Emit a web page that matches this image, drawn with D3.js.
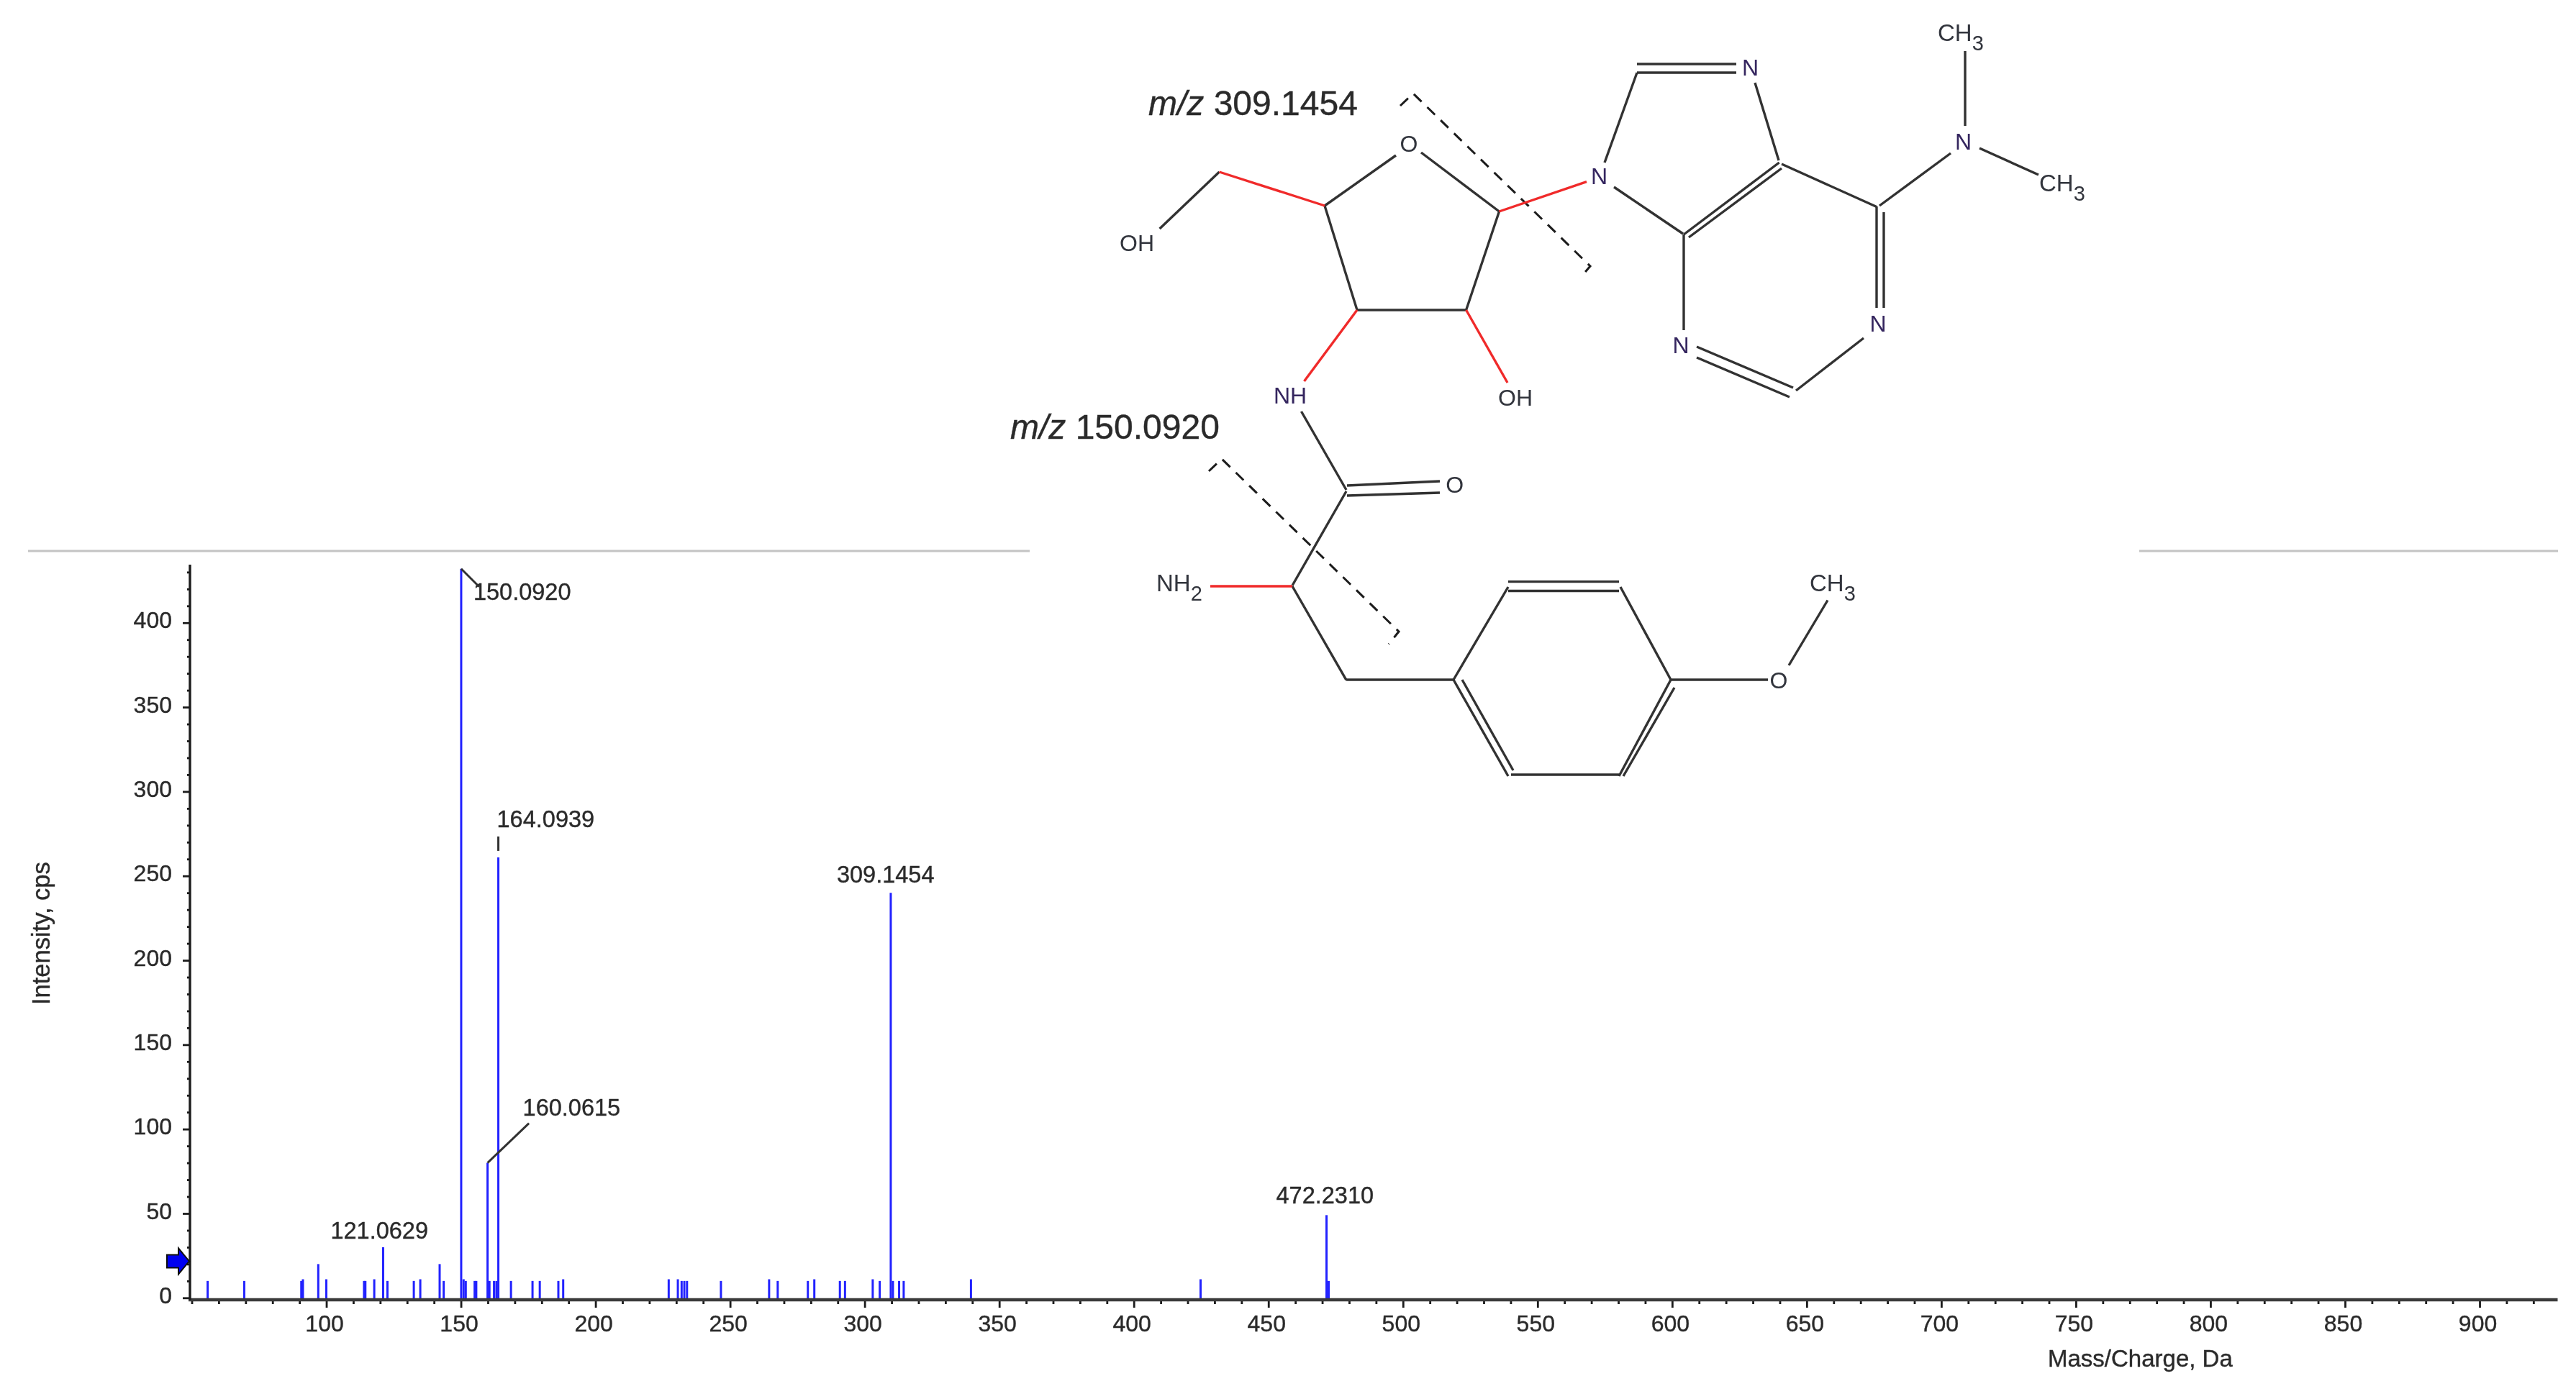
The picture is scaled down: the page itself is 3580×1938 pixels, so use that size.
<!DOCTYPE html>
<html>
<head>
<meta charset="utf-8">
<script src="https://cdn.jsdelivr.net/npm/d3@7"></script>
<style>
  html, body { margin: 0; padding: 0; background: #fff; }
  svg { display: block; }
  text { font-family: "Liberation Sans", Arial, sans-serif; fill: #2b2b2b; stroke: #2b2b2b; stroke-width: 0.4; }
</style>
</head>
<body>
<script>
// spectrum
const peakMz = [55.9, 69.5, 90.7, 91.3, 97, 100, 114, 114.5, 117.8, 121.1, 122.7, 132.5, 134.9, 142.1, 143.6,
  150.1, 151, 151.8, 155.1, 155.7, 159.9, 160.6, 162.3, 163.2, 163.9, 168.6, 176.6, 179.3, 186.2, 188,
  227.2, 230.6, 232, 233, 234, 246.6, 264.5, 267.7, 278.9, 281.3, 290.8, 292.7, 303, 305.6,
  309.7, 310.5, 312.8, 314.5, 339.5, 424.8, 471.6, 472.4]
const peakIntensity = [10, 10, 10, 11, 20, 11, 10, 10, 11, 30, 10, 10, 11, 20, 10,
  432, 11, 10, 10, 10, 80, 10, 10, 10, 261, 10, 10, 10, 10, 11,
  11, 11, 10, 10, 10, 10, 11, 10, 10, 11, 10, 10, 11, 10,
  240, 10, 10, 10, 11, 11, 49, 10]

const labelMz = [150.1, 163.9, 159.9, 121.1, 309.7, 471.6]
const labelIntensity = [432, 261, 80, 30, 240, 49]
const labelText = ['150.0920', '164.0939', '160.0615', '121.0629', '309.1454', '472.2310']

const xMajor = [100, 150, 200, 250, 300, 350, 400, 450, 500, 550, 600, 650, 700, 750, 800, 850, 900]
const yMajor = [0, 50, 100, 150, 200, 250, 300, 350, 400]
const xMinor = d3.range(50, 921, 10).filter(d => d % 50 !== 0 || d === 50)
const yMinor = d3.range(10, 431, 10).filter(d => d % 50 !== 0)
const thresholdValue = 21.7

// structure drawing, in picture pixels
const blackBonds = [
  [1975,212,2083.5,294], [1940,216,1841,286], [1841,286,1886,431], [1886,431,2037.6,431], [2037.6,431,2083.5,294],
  [1694.5,239,1611.6,318], [2439,115,2472,223], [2472.6,226,2340,326], [2476,234,2347,330], [2476,228,2608,287.5],
  [2608,287,2608,428], [2618,295,2618,428], [2612,286,2711,213], [2731,71,2731,175], [2751,206,2833,243],
  [2590,470,2496,543], [2358,482,2492,539], [2358,497,2487,552], [2340,326,2340,459], [2243,260,2339,325],
  [2230,226,2275,101], [2275,89,2413,89], [2275,101,2413,101],
  [1808.5,572,1871,681], [1872,675,2001,669], [1872,689,2001,685], [1871,683,1796,814], [1796,815,1871,945.4],
  [1871,945,2020,945], [2020,945,2096,1079], [2032,945,2103,1071], [2020,945,2096,816], [2096,808.6,2250,808.6],
  [2096,821.5,2250,821.5], [2252,816,2322,945], [2322,945,2250,1079], [2327,956,2256,1079], [2100,1077,2250,1077],
  [2322,945,2457,945], [2486,925,2540,834.5]
]
const redBonds = [
  [2083.5,294,2205,252.6], [1841,286,1694.5,239], [1886,431,1812.5,530], [2037.6,431,2095,532], [1682,815,1796,815]
]
const cutLines = [
  [[1946,147],[1964,130],[2210,370],[2196,386.5]],
  [[1680,655],[1698,638],[1944,878],[1930,895.5]]
]
const atomText = ['O', 'OH', 'OH', 'NH', 'N', 'N', 'N', 'N', 'N', 'O', 'O']
const atomX = [1958, 1580, 2106, 1793, 2222.6, 2432.6, 2336, 2610, 2728.6, 2021.6, 2472]
const atomY = [199, 337, 552, 549, 244, 93.6, 479, 449, 196, 673.5, 945.5]
const groupMain = ['CH', 'CH', 'CH', 'NH']
const groupSub = ['3', '3', '3', '2']
const groupX = [2693, 2834, 2515, 1607]
const groupY = [57, 266, 821.5, 821.5]

const width = 3580
const height = 1938
const svg = d3.select('body').append('svg')
    .attr('width', width)
    .attr('height', height)
    .attr('viewBox', [0, 0, width, height])

const defs = svg.append('defs')
defs.append('filter').attr('id', 'soft')
    .attr('filterUnits', 'userSpaceOnUse')
    .attr('x', 0).attr('y', 0).attr('width', width).attr('height', height)
  .append('feGaussianBlur').attr('stdDeviation', 0.7)

const root = svg.append('g').attr('filter', 'url(#soft)')
root.append('rect').attr('width', width).attr('height', height).attr('fill', '#fff')

const baseY = 1807
const x = d3.scaleLinear().domain([50, 929]).range([266.5, 3554.5])
const y = d3.scaleLinear().domain([0, 434]).range([1804.3, 786])

// grey rule behind the structure
root.selectAll('.rule')
  .data([[39, 1431], [2973, 3555]])
  .enter().append('line')
    .attr('class', 'rule')
    .attr('x1', d => d[0]).attr('x2', d => d[1])
    .attr('y1', 766).attr('y2', 766)
    .attr('stroke', '#c4c4c4').attr('stroke-width', 3)

// peaks
root.selectAll('.peak')
  .data(peakMz)
  .enter().append('line')
    .attr('class', 'peak')
    .attr('x1', d => x(d)).attr('x2', d => x(d))
    .attr('y1', baseY)
    .attr('y2', (d, i) => y(peakIntensity[i]))
    .attr('stroke', '#2222ff').attr('stroke-width', 3)

// axes
const xAxisMinor = d3.axisBottom(x).tickValues(xMinor).tickSize(6).tickFormat('')
const xAxisMajor = d3.axisBottom(x).tickValues(xMajor).tickSize(11).tickPadding(10)
const yAxisMinor = d3.axisLeft(y).tickValues(yMinor).tickSize(4).tickFormat('')
const yAxisMajor = d3.axisLeft(y).tickValues(yMajor).tickSize(10).tickPadding(15)

function styleAxis(g) {
  g.selectAll('.domain').remove()
  g.selectAll('line').attr('stroke', '#1a1a1a').attr('stroke-width', 2.8)
  g.selectAll('text').attr('font-size', 32)
    .attr('font-family', '"Liberation Sans", Arial, sans-serif')
}

root.append('g')
    .attr('transform', 'translate(0,' + baseY + ')').call(xAxisMinor).call(styleAxis)
root.append('g')
    .attr('transform', 'translate(0,' + baseY + ')').call(xAxisMajor).call(styleAxis)
    .selectAll('text').attr('dx', -3)
root.append('g')
    .attr('transform', 'translate(264,0)').call(yAxisMinor).call(styleAxis)
root.append('g')
    .attr('transform', 'translate(264,0)').call(yAxisMajor).call(styleAxis)
    .selectAll('text').attr('dy', '0.22em')

root.append('line')
    .attr('x1', 262).attr('x2', 3554.5).attr('y1', baseY).attr('y2', baseY)
    .attr('stroke', '#3a3a3a').attr('stroke-width', 4.5)
root.append('line')
    .attr('x1', 264).attr('x2', 264).attr('y1', 785).attr('y2', baseY)
    .attr('stroke', '#1a1a1a').attr('stroke-width', 3.4)

root.append('text')
    .attr('x', 2846).attr('y', 1900)
    .attr('font-size', 33)
    .text('Mass/Charge, Da')
root.append('text')
    .attr('transform', 'translate(69,1397) rotate(-90)')
    .attr('font-size', 34.5)
    .text('Intensity, cps')

// threshold arrow
const ay = y(thresholdValue)
root.append('path')
    .attr('d', d3.line()([[232, ay - 9], [248, ay - 9], [248, ay - 18], [263, ay], [248, ay + 18], [248, ay + 9], [232, ay + 9]]) + 'Z')
    .attr('fill', '#0000f0').attr('stroke', '#111').attr('stroke-width', 2)

// peak labels, offsets from the top of each peak
const labelDx = [17, -2, 49, -73, -75, -70]
const labelDy = [43, -42, -66, -12, -14, -16]
root.selectAll('.peak-label')
  .data(labelText)
  .enter().append('text')
    .attr('class', 'peak-label')
    .attr('x', (d, i) => x(labelMz[i]) + labelDx[i])
    .attr('y', (d, i) => y(labelIntensity[i]) + labelDy[i])
    .attr('font-size', 32.5)
    .text(d => d)

// leader lines from peak top to label
const leaderEnd = [[25, 25], [0, -29, 0, -9], [57.5, -55], null, null, null]
leaderEnd.forEach(function(e, i) {
  if (!e) return
  const px = x(labelMz[i])
  const py = y(labelIntensity[i])
  root.append('line')
      .attr('x1', px + e[0]).attr('y1', py + e[1])
      .attr('x2', px + (e.length > 2 ? e[2] : 0)).attr('y2', py + (e.length > 2 ? e[3] : 0))
      .attr('stroke', '#333').attr('stroke-width', 3)
})

// structure
const mol = root.append('g')
mol.selectAll('.bond')
  .data(blackBonds)
  .enter().append('line')
    .attr('class', 'bond')
    .attr('x1', d => d[0]).attr('y1', d => d[1])
    .attr('x2', d => d[2]).attr('y2', d => d[3])
    .attr('stroke', '#333').attr('stroke-width', 3.4)
mol.selectAll('.cut')
  .data(cutLines)
  .enter().append('path')
    .attr('class', 'cut')
    .attr('d', d3.line())
    .attr('fill', 'none')
    .attr('stroke', '#1c1c1c').attr('stroke-width', 3)
    .attr('stroke-dasharray', '15 11')
mol.selectAll('.red-bond')
  .data(redBonds)
  .enter().append('line')
    .attr('class', 'red-bond')
    .attr('x1', d => d[0]).attr('y1', d => d[1])
    .attr('x2', d => d[2]).attr('y2', d => d[3])
    .attr('stroke', '#f02c2c').attr('stroke-width', 3.4)

mol.selectAll('.atom')
  .data(atomText)
  .enter().append('text')
    .attr('class', 'atom')
    .attr('x', (d, i) => atomX[i])
    .attr('y', (d, i) => atomY[i])
    .attr('dy', '0.36em')
    .attr('text-anchor', 'middle')
    .attr('font-size', 32)
    .style('fill', d => d[0] === 'N' ? '#35265f' : '#33363e')
    .style('stroke', 'none')
    .text(d => d)

groupMain.forEach(function(t, i) {
  const g = mol.append('text')
      .attr('x', groupX[i]).attr('y', groupY[i])
      .attr('font-size', 33)
      .style('fill', '#33363e')
      .style('stroke', 'none')
  g.append('tspan').text(t)
  g.append('tspan').attr('dy', 13).attr('font-size', 29).text(groupSub[i])
})

// annotations
const notes = [['309.1454', 1596, 160], ['150.0920', 1404, 610]]
notes.forEach(function(n) {
  const t = root.append('text')
      .attr('x', n[1]).attr('y', n[2])
      .attr('font-size', 48)
  t.append('tspan').attr('font-style', 'italic').text('m/z')
  t.append('tspan').text(' ' + n[0])
})
</script>
</body>
</html>
